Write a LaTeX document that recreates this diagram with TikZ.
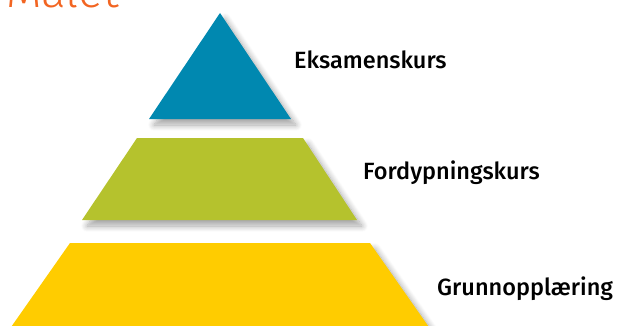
\documentclass[tikz,border=0pt]{standalone}
\usepackage{fontspec}
\setmainfont{Fira Sans Medium}
\newfontfamily\titlefont{Fira Sans Light}
\usetikzlibrary{shadows.blur}
\definecolor{tierblue}{RGB}{0,136,176}
\definecolor{tiergreen}{RGB}{181,194,45}
\definecolor{tieryellow}{RGB}{255,204,0}
\definecolor{titleorange}{RGB}{242,101,34}
\tikzstyle{tier} = [blur shadow={shadow xshift=5pt, shadow yshift=-6pt, shadow blur radius=6pt, shadow blur steps=12, shadow opacity=35}]
\tikzstyle{tierlabel} = [anchor=base west, inner sep=0pt, text=black, font=\fontsize{23.5}{28}\selectfont]

\begin{document}
\begin{tikzpicture}[x=1pt,y=-1pt]
    \useasboundingbox (0,0) rectangle (623,326);
    \clip (0,0) rectangle (623,326);

    % title
    \node (title) [anchor=base west, inner sep=0pt, text=titleorange, font=\titlefont\fontsize{46}{50}\selectfont] at (6,8) {Målet};

    % tiers
    \fill [tier, tierblue] (220,13) -- (291,119) -- (149,119) -- cycle;
    \fill [tier, tiergreen] (137,138) -- (303,138) -- (357,220) -- (82,220) -- cycle;
    \fill [tier, tieryellow] (70,243) -- (370,243) -- (438,340) -- (2,340) -- cycle;

    % labels
    \node (exam) [tierlabel] at (294,69) {Eksamenskurs};
    \node (deep) [tierlabel] at (363,179) {Fordypningskurs};
    \node (basic) [tierlabel] at (437,295) {Grunnopplæring};
\end{tikzpicture}
\end{document}
